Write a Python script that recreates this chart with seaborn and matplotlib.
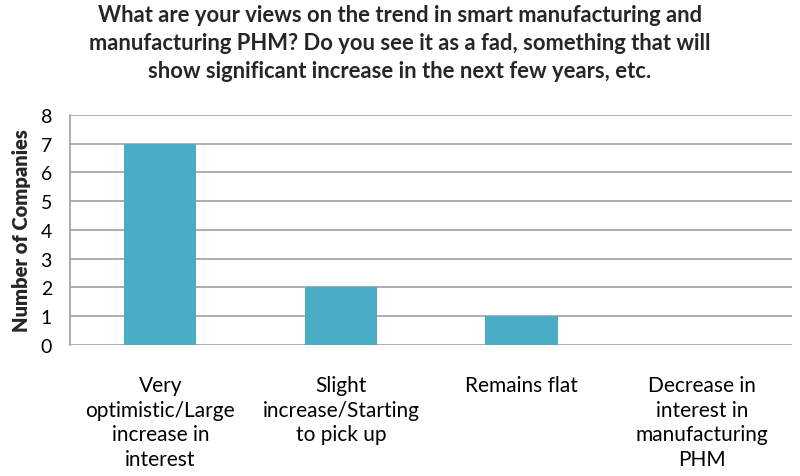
import matplotlib
matplotlib.use("Agg")
import matplotlib.pyplot as plt
import seaborn as sns
import pandas as pd

# Survey answers and counts
categories = [
    "Very\noptimistic/Large\nincrease in\ninterest",
    "Slight\nincrease/Starting\nto pick up",
    "Remains flat",
    "Decrease in\ninterest in\nmanufacturing\nPHM",
]
counts = [7, 2, 1, 0]
y_ticks = [0, 1, 2, 3, 4, 5, 6, 7, 8]

title = ("What are your views on the trend in smart manufacturing and\n"
         "manufacturing PHM? Do you see it as a fad, something that will\n"
         "show significant increase in the next few years, etc.")

sns.set_style("white")
plt.rcParams['font.family'] = ['Lato', 'DejaVu Sans']

df = pd.DataFrame({"answer": categories, "companies": counts})

fig = plt.figure(figsize=(8, 4.77), dpi=100)
ax = fig.add_axes([0.0875, 0.275, 0.903, 0.482])

sns.barplot(data=df, x="answer", y="companies", color="#4BACC6",
            saturation=1, width=0.4, edgecolor="none", ax=ax, zorder=3)

ax.set_ylim(0, 8)
ax.set_yticks(y_ticks)
ax.yaxis.grid(True, color="#A0A0A0", linewidth=1.2, zorder=0)
ax.set_axisbelow(True)
for s in ["top", "right", "bottom"]:
    ax.spines[s].set_visible(False)
ax.spines["left"].set_color("#A0A0A0")
ax.spines["left"].set_linewidth(1.2)

ax.tick_params(axis="y", length=0, labelsize=14, colors="black", pad=13)
ax.tick_params(axis="x", length=0, colors="black", pad=22)
for lbl in ax.get_xticklabels():
    lbl.set_fontsize(15)
    lbl.set_linespacing(1.28)
ax.set_xlabel("")
ax.set_ylabel("Number of Companies", fontdict={"fontsize": 14.5, "fontweight": "heavy"}, labelpad=7)

fig.suptitle(title, fontsize=15.8, fontweight="bold", y=0.99, linespacing=1.42)

fig.savefig("out.png", dpi=100)
